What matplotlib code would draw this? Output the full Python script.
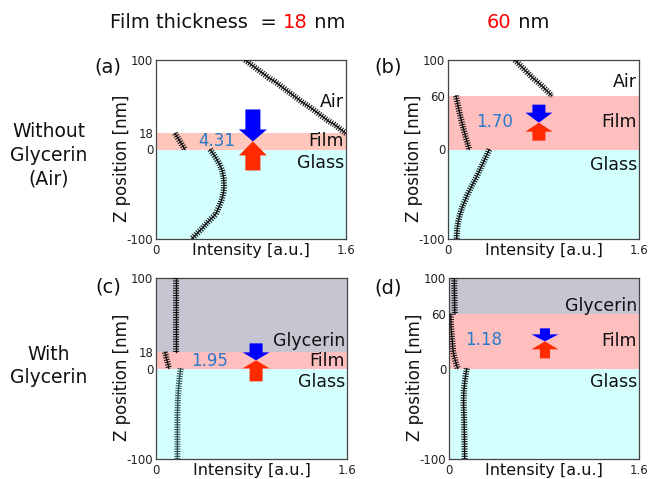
import matplotlib
matplotlib.use("Agg")
import matplotlib.pyplot as plt
import matplotlib.transforms as mtransforms
from matplotlib.patches import Polygon

plt.rcParams["lines.scale_dashes"] = False

# ---- depth grids [nm] ----
Z_TOP_18 = [100, 96, 92, 88, 84, 80, 76, 72, 68, 64, 60, 56, 52, 48, 44, 40, 36, 32, 28, 24, 20, 18]
Z_FILM_18 = [18, 15, 12, 9, 6, 3, 0]
Z_TOP_60 = [100, 96, 92, 88, 84, 80, 76, 72, 68, 64, 60]
Z_FILM_60 = [60, 56, 52, 48, 44, 40, 36, 32, 28, 24, 20, 16, 12, 8, 4, 0]
Z_GLASS = [0, -4, -8, -12, -16, -20, -24, -28, -32, -36, -40, -44, -48, -52,
           -56, -60, -64, -68, -72, -76, -80, -84, -88, -92, -96, -100]

# ---- intensity profiles [a.u.] ----
# (a) 18 nm film, air above
I_A_TOP = [0.75, 0.79, 0.83, 0.87, 0.91, 0.95, 1.00, 1.04, 1.08, 1.12, 1.16,
           1.20, 1.24, 1.29, 1.33, 1.37, 1.41, 1.45, 1.50, 1.54, 1.58, 1.60]
I_A_FILM = [0.160, 0.174, 0.188, 0.202, 0.216, 0.230, 0.244]
I_A_GLASS = [0.455, 0.478, 0.497, 0.515, 0.533, 0.547, 0.557, 0.564, 0.569, 0.572,
             0.573, 0.572, 0.568, 0.562, 0.553, 0.543, 0.531, 0.518, 0.505, 0.475,
             0.445, 0.415, 0.390, 0.360, 0.330, 0.300]

# (b) 60 nm film, air above
I_B_TOP = [0.56, 0.59, 0.62, 0.65, 0.68, 0.71, 0.745, 0.78, 0.81, 0.84, 0.87]
I_B_FILM = [0.067, 0.073, 0.079, 0.086, 0.092, 0.099, 0.106, 0.113,
            0.120, 0.128, 0.136, 0.144, 0.152, 0.161, 0.169, 0.178]
I_B_GLASS = [0.346, 0.332, 0.318, 0.304, 0.290, 0.276, 0.262, 0.248, 0.233, 0.218,
             0.202, 0.187, 0.172, 0.158, 0.146, 0.133, 0.121, 0.111, 0.102, 0.094,
             0.087, 0.082, 0.078, 0.075, 0.073, 0.072]

# (c) 18 nm film, glycerin above
I_C_TOP = [0.168, 0.168, 0.168, 0.168, 0.168, 0.168, 0.168, 0.168, 0.168, 0.168, 0.168,
           0.168, 0.168, 0.168, 0.168, 0.168, 0.168, 0.168, 0.168, 0.168, 0.168, 0.168]
I_C_FILM = [0.075, 0.081, 0.086, 0.092, 0.098, 0.103, 0.109]
I_C_GLASS = [0.207, 0.203, 0.199, 0.196, 0.193, 0.190, 0.188, 0.186, 0.184, 0.183,
             0.182, 0.181, 0.180, 0.179, 0.179, 0.179, 0.179, 0.179, 0.179, 0.179,
             0.179, 0.179, 0.179, 0.179, 0.179, 0.179]

# (d) 60 nm film, glycerin above
I_D_TOP = [0.044, 0.044, 0.045, 0.045, 0.046, 0.046, 0.047, 0.047, 0.048, 0.048, 0.049]
I_D_FILM = [0.014, 0.015, 0.016, 0.017, 0.019, 0.021, 0.023, 0.026,
            0.029, 0.032, 0.034, 0.039, 0.046, 0.054, 0.063, 0.074]
I_D_GLASS = [0.150, 0.145, 0.140, 0.136, 0.132, 0.129, 0.126, 0.124, 0.123, 0.123,
             0.123, 0.124, 0.125, 0.126, 0.127, 0.128, 0.128, 0.129, 0.129, 0.130,
             0.130, 0.131, 0.131, 0.131, 0.132, 0.132]

ENHANCEMENT = ["4.31", "1.70", "1.95", "1.18"]
PANEL_TAGS = ["(a)", "(b)", "(c)", "(d)"]
THICKNESS = [18, 60, 18, 60]
TOP_MEDIUM = ["Air", "Air", "Glycerin", "Glycerin"]

W, H = 654, 479
GLASS_C = "#d4ffff"
GLYC_C = "#c6c6d2"
NUM_C = "#2878c8"

panels = [
    dict(rect=(156, 60, 190, 179), z_top=Z_TOP_18, i_top=I_A_TOP, z_film=Z_FILM_18,
         i_film=I_A_FILM, i_glass=I_A_GLASS, film_c="#ffc6bb", glass_line="#111111",
         tag_xy=(108, 67), labels_z=(53, 9, -15), num_pos=(0.32, 9),
         arrow=(0.51, 32, 12, 29, 14, 28, 15), xlab_y=-0.025),
    dict(rect=(448, 60, 191, 179), z_top=Z_TOP_60, i_top=I_B_TOP, z_film=Z_FILM_60,
         i_film=I_B_FILM, i_glass=I_B_GLASS, film_c="#ffbfbf", glass_line="#111111",
         tag_xy=(388, 67), labels_z=(75, 31, -17), num_pos=(0.244, 31),
         arrow=(0.476, 18, 10, 18, 9, 27, 13), xlab_y=-0.025),
    dict(rect=(156, 278, 191, 181), z_top=Z_TOP_18, i_top=I_C_TOP, z_film=Z_FILM_18,
         i_film=I_C_FILM, i_glass=I_C_GLASS, film_c="#ffbfbf", glass_line="#2f5050",
         tag_xy=(108, 287), labels_z=(30, 8, -15), num_pos=(0.283, 8),
         arrow=(0.524, 17, 8, 21, 8, 27, 13), xlab_y=-0.02),
    dict(rect=(449, 278, 190, 181), z_top=Z_TOP_60, i_top=I_D_TOP, z_film=Z_FILM_60,
         i_film=I_D_FILM, i_glass=I_D_GLASS, film_c="#ffbfbf", glass_line="#111111",
         tag_xy=(388, 288), labels_z=(69, 30, -15), num_pos=(0.184, 31),
         arrow=(0.505, 13, 7, 17, 8, 27, 10), xlab_y=-0.02),
]

fig = plt.figure(figsize=(W / 100, H / 100), dpi=100)


def add_arrow(ax, x_frac, z_tip, length, head_len, head_w, shaft_w, color, down):
    """Block arrow with its tip at (x_frac, z_tip); sizes in pixels."""
    s = 1 if down else -1
    hw, sw = head_w / 2, shaft_w / 2
    verts = [(0, 0), (-hw, s * head_len), (-sw, s * head_len), (-sw, s * length),
             (sw, s * length), (sw, s * head_len), (hw, s * head_len)]
    verts = [(vx / 100, vy / 100) for vx, vy in verts]
    blend = mtransforms.blended_transform_factory(ax.transAxes, ax.transData)
    trans = fig.dpi_scale_trans + mtransforms.ScaledTranslation(x_frac, z_tip, blend)
    ax.add_patch(Polygon(verts, closed=True, transform=trans, fc=color, ec="none",
                         zorder=5))


def hatched_curve(ax, x, z, color):
    """Thin profile line with dense cross ticks along it."""
    ax.plot(x, z, color=color, lw=1.0, zorder=3)
    ax.plot(x, z, color=color, lw=4.4, dashes=(0.75, 1.0), zorder=3)


for k, p in enumerate(panels):
    x0, y0, w, h = p["rect"]
    ax = fig.add_axes([x0 / W, 1 - (y0 + h) / H, w / W, h / H])
    t = THICKNESS[k]

    # layer backgrounds
    ax.axhspan(-100, 0, color=GLASS_C, lw=0, zorder=0)
    ax.axhspan(0, t, color=p["film_c"], lw=0, zorder=0)
    if TOP_MEDIUM[k] == "Glycerin":
        ax.axhspan(t, 100, color=GLYC_C, lw=0, zorder=0)

    hatched_curve(ax, p["i_top"], p["z_top"], "#111111")
    hatched_curve(ax, p["i_film"], p["z_film"], "#111111")
    hatched_curve(ax, p["i_glass"], Z_GLASS, p["glass_line"])

    ax.set_xlim(0, 1.6)
    ax.set_ylim(-100, 100)
    ax.set_xticks([0, 1.6])
    ax.set_xticklabels(["0", "1.6"])
    ax.set_yticks([100, t, 0, -100])
    ax.set_yticklabels(["100", str(t), "0", "-100"])
    ax.tick_params(length=0, labelsize=8.5, colors="#222222")
    ax.tick_params(axis="x", pad=3.5)
    ax.tick_params(axis="y", pad=2)
    for sp in ax.spines.values():
        sp.set_color("#444444")
        sp.set_linewidth(0.9)

    ax.set_ylabel("Z position [nm]", fontsize=12, color="#111111")
    ax.yaxis.set_label_coords(-0.13, 0.45)
    ax.set_xlabel("Intensity [a.u.]", fontsize=11.5, color="#111111")
    ax.xaxis.set_label_coords(0.5, p["xlab_y"])

    # layer names
    za, zf, zg = p["labels_z"]
    tr = mtransforms.blended_transform_factory(ax.transAxes, ax.transData)
    for name, z in [(TOP_MEDIUM[k], za), ("Film", zf), ("Glass", zg)]:
        ax.text(0.99, z, name, transform=tr, ha="right", va="center",
                fontsize=12.5, color="#111111", zorder=6)

    nx, nz = p["num_pos"]
    ax.text(nx, nz, ENHANCEMENT[k], transform=tr, ha="center", va="center",
            fontsize=12, color=NUM_C, zorder=6)

    ax_x, bl, bh, rl, rh, hw, sw = p["arrow"]
    add_arrow(ax, ax_x, t / 2, bl, bh, hw, sw, "#0000ff", down=True)
    add_arrow(ax, ax_x, t / 2, rl, rh, hw, sw, "#ff2a00", down=False)

    tx, ty = p["tag_xy"]
    fig.text(tx / W, 1 - ty / H, PANEL_TAGS[k], ha="center", va="center",
             fontsize=14, color="#111111")


def header(x_px, pieces):
    """Write text pieces one after another on the header line."""
    renderer = fig.canvas.get_renderer()
    x = x_px / W
    for s, c in pieces:
        txt = fig.text(x, 1 - 23 / H, s, ha="left", va="center", fontsize=14, color=c)
        bb = txt.get_window_extent(renderer=renderer)
        x = bb.x1 / W


header(110, [("Film thickness  = ", "#111111"), ("18", "#ff0000"), (" nm", "#111111")])
header(487, [("60", "#ff0000"), (" nm", "#111111")])

# row labels
fig.text(49 / W, 1 - 155 / H, "Without\nGlycerin\n(Air)", ha="center", va="center",
         fontsize=13.5, linespacing=1.3, color="#111111")
fig.text(49 / W, 1 - 366 / H, "With\nGlycerin", ha="center", va="center",
         fontsize=13.5, linespacing=1.3, color="#111111")

fig.savefig("out.png", dpi=100)
